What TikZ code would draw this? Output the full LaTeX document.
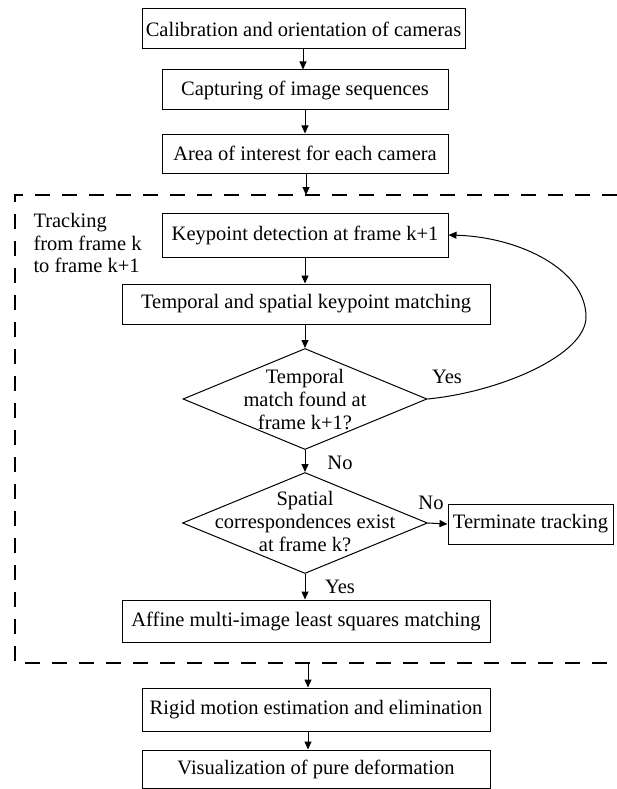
\documentclass[tikz,border=0pt]{standalone}
\usepackage{fontspec}
\setmainfont{Liberation Serif}
\usetikzlibrary{shapes.geometric,arrows.meta}
\begin{document}
\begin{tikzpicture}[x=1pt,y=-1pt,
  font=\fontsize{20.5}{23}\selectfont,
  every path/.style={line width=1pt},
  stepbox/.style={draw, rectangle, inner sep=0pt, align=center},
  decision/.style={draw, diamond, inner sep=0pt},
  flow/.style={-{Triangle[length=8pt,width=7pt]}},
  lbl/.style={inner sep=0pt},
  frame/.style={dash pattern=on 15pt off 12pt, line width=1.2pt}]
\useasboundingbox (0,0) rectangle (617,789);

% main boxes
\node[stepbox, minimum width=323pt, minimum height=40pt] (calib) at (303.5,29) {Calibration and orientation of cameras};
\node[stepbox, minimum width=286pt, minimum height=40pt] (capture) at (305,90) {Capturing of image sequences};
\node[stepbox, minimum width=286pt, minimum height=39pt] (area) at (305,153.5) {Area of interest for each camera};

% tracking loop frame
\coordinate (ftop) at (306,195);
\coordinate (fbot) at (308,663);
\draw[frame] (617,195) -- (15,195) -- (15,663) -- (617,663);
\node[lbl, anchor=west, align=left, font=\fontsize{20.5}{22.5}\selectfont] (track) at (33,243) {Tracking\\from frame k\\to frame k+1};

\node[stepbox, minimum width=286pt, minimum height=44pt] (kp) at (305,235) {Keypoint detection at frame k+1};
\node[stepbox, minimum width=368pt, minimum height=40pt] (match) at (306,304) {Temporal and spatial keypoint matching};

\node[decision, minimum width=244pt, minimum height=101pt] (d1) at (305,399) {};
\node[lbl, align=center] (d1t) at (305,400) {Temporal\\match found at\\frame k+1?};

\node[decision, minimum width=245pt, minimum height=101pt] (d2) at (305,523) {};
\node[lbl, align=center] (d2t) at (305,522) {Spatial\\correspondences exist\\at frame k?};

\node[stepbox, minimum width=165pt, minimum height=40pt] (term) at (530.5,524) {Terminate tracking};
\node[stepbox, minimum width=368pt, minimum height=42pt] (lsm) at (306,621) {Affine multi-image least squares matching};

\node[stepbox, minimum width=348pt, minimum height=43pt] (rigid) at (316,709.5) {Rigid motion estimation and elimination};
\node[stepbox, minimum width=348pt, minimum height=38pt] (vis) at (316,769) {Visualization of pure deformation};

% connectors
\draw[flow] (calib.south -| 303,0) -- (capture.north -| 303,0);
\draw[flow] (capture) -- (area);
\draw[flow] (area.south -| ftop) -- (ftop);
\draw[flow] (kp) -- (kp |- match.north);
\draw[flow] (match.south -| d1.north) -- (d1.north);
\draw[flow] (d1.south) -- (d2.north);
\draw[flow] (d2.east) -- (term.west);
\draw[flow] (d2.south) -- (d2.south |- lsm.north);
\draw[flow] (fbot) -- (fbot |- rigid.north);
\draw[flow] (rigid.south -| fbot) -- (vis.north -| fbot);
\draw[flow] (d1.east) .. controls (500,392) and (586,355) .. (586,317)
  .. controls (586,270) and (520,237) .. (kp.east);

% branch labels
\node[lbl] (yes1) at (447,377) {Yes};
\node[lbl] (no1) at (340,463) {No};
\node[lbl] (no2) at (431,503) {No};
\node[lbl] (yes2) at (340,587) {Yes};
\end{tikzpicture}
\end{document}
